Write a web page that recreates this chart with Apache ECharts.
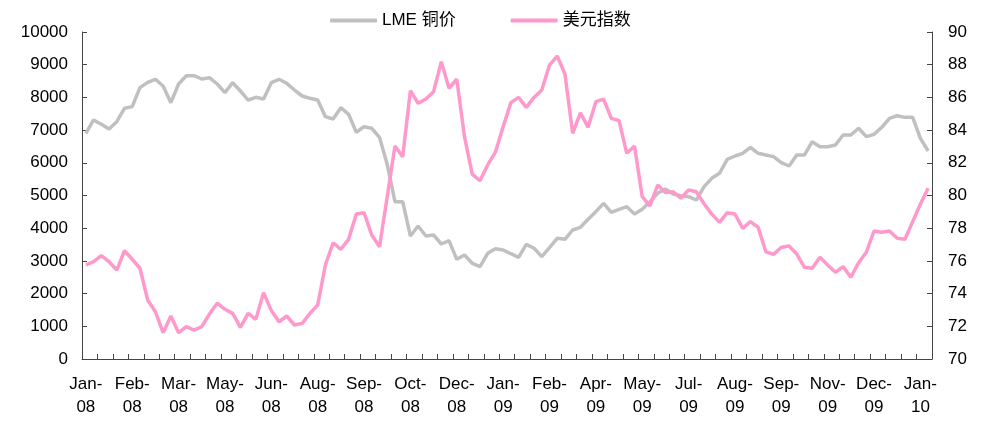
<!DOCTYPE html>
<html>
<head>
<meta charset="utf-8">
<script src="https://cdn.jsdelivr.net/npm/echarts@6/dist/echarts.min.js"></script>
<style>
  html,body{margin:0;padding:0;background:#fff;}
  #chart{width:981px;height:424px;}
</style>
</head>
<body>
<div id="chart"></div>
<script>
// weekly data, Jan-08 .. Jan-10
var tickLabels = ['Jan-\n08','Feb-\n08','Mar-\n08','May-\n08','Jun-\n08','Aug-\n08','Sep-\n08','Oct-\n08','Dec-\n08',
  'Jan-\n09','Feb-\n09','Apr-\n09','May-\n09','Jul-\n09','Aug-\n09','Sep-\n09','Nov-\n09','Dec-\n09','Jan-\n10']

var copper = [6902, 7309, 7177, 7034, 7257, 7666, 7717, 8298, 8460, 8553,
  8349, 7838, 8410, 8664, 8664, 8563, 8603, 8410, 8144, 8450,
  8196, 7920, 8003, 7951, 8450, 8553, 8431, 8226, 8043, 7972,
  7920, 7410, 7339, 7685, 7483, 6933, 7104, 7055, 6780, 5950,
  4810, 4810, 3761, 4067, 3761, 3792, 3517, 3618, 3049, 3180,
  2927, 2823, 3232, 3370, 3333, 3220, 3110, 3507, 3385, 3130,
  3405, 3690, 3660, 3945, 4027, 4272, 4505, 4761, 4486, 4577,
  4658, 4434, 4577, 4810, 5066, 5199, 5046, 4994, 4964, 4862,
  5270, 5525, 5678, 6107, 6208, 6290, 6474, 6290, 6239, 6188,
  6004, 5902, 6239, 6239, 6646, 6493, 6493, 6544, 6850, 6850,
  7055, 6799, 6871, 7085, 7360, 7441, 7390, 7390, 6748, 6361]

var dollar = [75.75, 75.95, 76.32, 75.95, 75.44, 76.62, 76.10, 75.55, 73.61, 72.89,
  71.61, 72.63, 71.61, 71.98, 71.77, 71.98, 72.75, 73.41, 73.04, 72.79,
  71.94, 72.79, 72.43, 74.06, 72.96, 72.28, 72.63, 72.08, 72.18, 72.79,
  73.30, 75.75, 77.11, 76.71, 77.32, 78.87, 78.95, 77.58, 76.87, 79.93,
  83.03, 82.37, 86.41, 85.64, 85.90, 86.35, 88.18, 86.56, 87.11, 83.60,
  81.31, 80.90, 81.87, 82.65, 84.21, 85.68, 86.00, 85.39, 86.00, 86.45,
  87.98, 88.53, 87.43, 83.80, 85.06, 84.17, 85.74, 85.90, 84.72, 84.58,
  82.58, 83.03, 79.93, 79.36, 80.64, 80.19, 80.23, 79.83, 80.34, 80.23,
  79.50, 78.86, 78.36, 78.95, 78.87, 77.99, 78.40, 78.05, 76.56, 76.40,
  76.83, 76.91, 76.42, 75.61, 75.55, 76.22, 75.75, 75.30, 75.65, 75.00,
  75.89, 76.53, 77.83, 77.75, 77.83, 77.38, 77.32, 78.40, 79.48, 80.44]

var categories = copper.map(function (v, i) {
  return i % 6 === 0 ? tickLabels[i / 6] : ''
})

var font = "'Liberation Sans', Arial, 'Noto Sans CJK SC', sans-serif"
var axisColor = '#444'

var chart = echarts.init(document.getElementById('chart'))
chart.setOption({
  animation: false,
  textStyle: { fontFamily: font },
  legend: {
    left: 325,
    top: 7,
    itemWidth: 47,
    itemHeight: 4,
    itemGap: 55,
    icon: 'roundRect',
    textStyle: { fontSize: 17, color: '#000', fontFamily: font },
    data: ['LME 铜价', '美元指数']
  },
  grid: { left: 82, right: 49, top: 32, bottom: 65 },
  xAxis: {
    type: 'category',
    data: categories,
    boundaryGap: true,
    axisLine: { lineStyle: { color: axisColor, width: 1 } },
    axisTick: { show: true, inside: true, length: 5, interval: 1, lineStyle: { color: axisColor } },
    axisLabel: { interval: 5, color: '#000', fontSize: 17, lineHeight: 23, margin: 14 },
    splitLine: { show: false }
  },
  yAxis: [
    {
      type: 'value',
      min: 0, max: 10000, interval: 1000,
      axisLine: { show: true, lineStyle: { color: axisColor } },
      axisTick: { show: true, inside: true, length: 5, lineStyle: { color: axisColor } },
      axisLabel: {
        color: '#000', fontSize: 17, margin: 14,
        formatter: function (v) { return String(v) }
      },
      splitLine: { show: false }
    },
    {
      type: 'value',
      min: 70, max: 90, interval: 2,
      axisLine: { show: true, lineStyle: { color: axisColor } },
      axisTick: { show: true, inside: true, length: 5, lineStyle: { color: axisColor } },
      axisLabel: { color: '#000', fontSize: 17, margin: 16 },
      splitLine: { show: false }
    }
  ],
  series: [
    {
      name: 'LME 铜价',
      type: 'line',
      data: copper,
      yAxisIndex: 0,
      showSymbol: false,
      itemStyle: { color: '#C0C0C0' },
      lineStyle: { color: '#C0C0C0', width: 3.5 }
    },
    {
      name: '美元指数',
      type: 'line',
      data: dollar,
      yAxisIndex: 1,
      showSymbol: false,
      itemStyle: { color: '#FF99CC' },
      lineStyle: { color: '#FF99CC', width: 3.5 }
    }
  ]
})
</script>
</body>
</html>
